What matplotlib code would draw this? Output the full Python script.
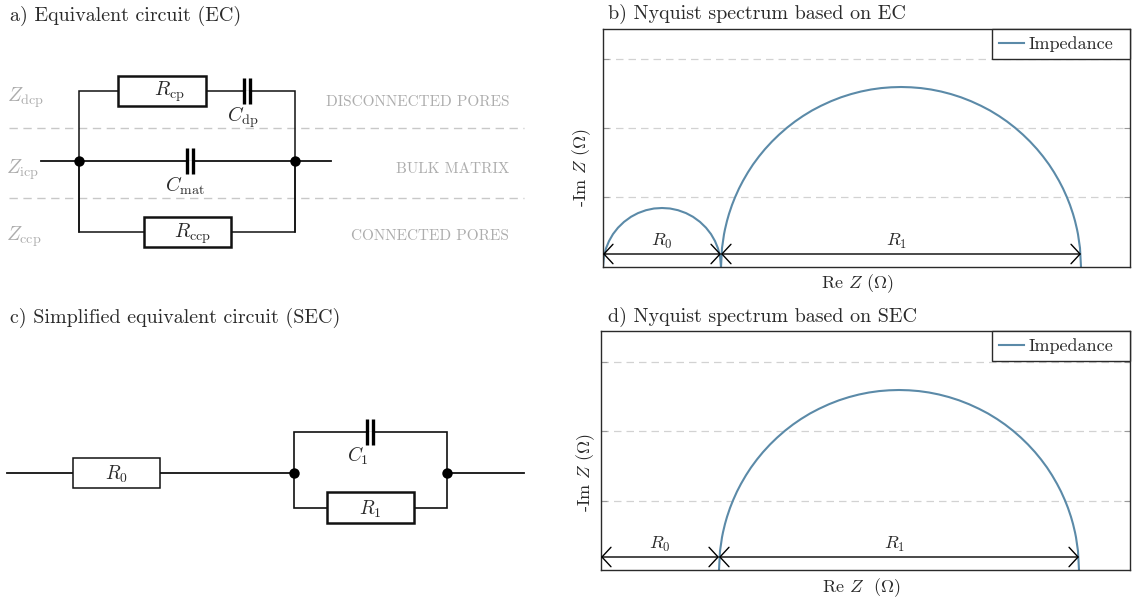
import matplotlib
matplotlib.use("Agg")
import matplotlib.pyplot as plt
from matplotlib.patches import Rectangle

plt.rcParams['font.family'] = ['cmr10', 'DejaVu Sans']
plt.rcParams['mathtext.fontset'] = 'cm'
plt.rcParams['axes.formatter.use_mathtext'] = True
plt.rcParams['axes.unicode_minus'] = False

# ---- data (arbitrary impedance units) ----
small_arc_re = [0, 1, 3, 6, 10, 15, 21, 28, 35, 43, 51, 59, 67, 75, 83, 90, 97, 103, 108, 112, 115, 117, 118]
small_arc_im = [0, 10.8, 18.6, 25.9, 32.9, 39.3, 45.1, 50.2, 53.9, 56.8, 58.5, 59, 58.5, 56.8, 53.9, 50.2, 45.1, 39.3, 32.9, 25.9, 18.6, 10.8, 0]
large_arc_re = [118, 119, 121, 122, 124, 126, 129, 132, 136, 140, 145, 150, 156, 162, 169, 176, 184, 192, 200, 209,
                218, 228, 238, 248, 258, 268, 278, 288, 298,
                308, 318, 328, 338, 348, 358, 368, 378, 387, 396, 404, 412, 420, 427, 434, 440, 446, 451, 456, 460,
                464, 467, 470, 472, 474, 475, 477, 478]
large_arc_im = [0, 18.9, 32.7, 37.7, 46.1, 53.1, 62.0, 69.6, 78.5, 86.2, 94.8, 102.5, 110.6, 117.9, 125.5, 132.3, 139.3,
                145.5, 151.0, 156.5, 161.2, 165.8, 169.7, 172.9, 175.5, 177.5, 178.9, 179.7, 180,
                179.7, 178.9, 177.5, 175.5, 172.9, 169.7, 165.8, 161.2, 156.5, 151.0, 145.5, 139.3, 132.3, 125.5,
                117.9, 110.6, 102.5, 94.8, 86.2, 78.5, 69.6, 62.0, 53.1, 46.1, 37.7, 32.7, 18.9, 0]
grid_levels = [69.5, 139, 208.5]
R0_value = 118
R1_value = 360
series_label = "Impedance"
panel_titles = ["a) Equivalent circuit (EC)", "b) Nyquist spectrum based on EC",
                "c) Simplified equivalent circuit (SEC)", "d) Nyquist spectrum based on SEC"]
zone_labels = ["DISCONNECTED PORES", "BULK MATRIX", "CONNECTED PORES"]

W, H = 1134, 606
fig = plt.figure(figsize=(W / 100, H / 100), dpi=100)
LINE = '#5b8aa8'
INK = '#2a2a2a'
GREY = '#adadad'
GRID = '#d2d2d2'


def px_axes(l, t, r, b):
    return fig.add_axes([l / W, 1 - b / H, (r - l) / W, (b - t) / H])


def nyquist(rect, arcs, xlabel, ylabel_pos, xlabel_pos):
    l, t, r, b = rect
    ax = px_axes(l, t, r, b)
    ax.set_xlim(0, r - l)
    ax.set_ylim(0, b - t)
    ax.set_xticks([])
    ax.set_yticks(grid_levels)
    ax.set_yticklabels([])
    ax.tick_params(axis='y', direction='in', length=4, width=0.8, color='#999999', left=True, right=True)
    ax.grid(axis='y', color=GRID, lw=0.9, dashes=(6, 4))
    ax.set_axisbelow(True)
    for s in ax.spines.values():
        s.set_linewidth(1.0)
        s.set_color(INK)
    first = True
    for re_vals, im_vals in arcs:
        ax.plot(re_vals, im_vals, color=LINE, lw=1.5, clip_on=True,
                label=series_label if first else None, solid_joinstyle='round')
        first = False
    leg = ax.legend(loc='upper left', bbox_to_anchor=((992 - l) / (r - l), 0, (r - 992) / (r - l), 1),
                    mode='expand', fontsize=13, frameon=True, fancybox=False, framealpha=1,
                    edgecolor=INK, borderaxespad=0, handlelength=1.38, handletextpad=0.22,
                    borderpad=0.4)
    leg.get_frame().set_linewidth(1.0)
    for tx in leg.get_texts():
        tx.set_color(INK)
    arrow = dict(arrowstyle='<->,head_length=0.65,head_width=0.7', lw=1.0, color='black',
                 shrinkA=0, shrinkB=0, mutation_scale=10)
    y0 = 13
    ax.annotate('', xy=(0, y0), xytext=(R0_value, y0), arrowprops=arrow)
    ax.annotate('', xy=(R0_value, y0), xytext=(R0_value + R1_value, y0), arrowprops=arrow)
    ax.text(R0_value / 2, y0 + 3, '$R_0$', ha='center', va='bottom', fontsize=13, color=INK)
    ax.text(R0_value + R1_value / 2 - 4, y0 + 3, '$R_1$', ha='center', va='bottom', fontsize=13, color=INK)
    fig.text(ylabel_pos[0] / W, 1 - ylabel_pos[1] / H, '-Im $Z$ ($\\Omega$)', rotation=90, ha='center',
             va='center', fontsize=13, color=INK)
    fig.text(xlabel_pos[0] / W, 1 - xlabel_pos[1] / H, xlabel, ha='center', va='center', fontsize=13, color=INK)
    return ax


nyquist((603, 29, 1130, 267), [(small_arc_re, small_arc_im), (large_arc_re, large_arc_im)],
        'Re $Z$ ($\\Omega$)', (582, 167), (857, 284))
nyquist((601, 331, 1130, 570), [(large_arc_re, large_arc_im)],
        'Re $Z$  ($\\Omega$)', (586, 472), (861, 588))

# ---- schematic overlay in pixel coordinates ----
ov = fig.add_axes([0, 0, 1, 1], zorder=5)
ov.set_xlim(0, W)
ov.set_ylim(H, 0)
ov.axis('off')
ov.patch.set_alpha(0)


def wire(xs, ys, lw=1.1, c='#111111'):
    ov.plot(xs, ys, color=c, lw=lw, solid_capstyle='projecting', solid_joinstyle='miter')


def box(x0, y0, x1, y1, lw=1.6):
    ov.add_patch(Rectangle((x0, y0), x1 - x0, y1 - y0, fc='white', ec='#111111', lw=lw, zorder=3))


def cap(x, y0, y1, y_wire, gap=2.8):
    ov.plot([x - gap, x + gap], [y_wire, y_wire], color='white', lw=2, zorder=3, solid_capstyle='butt')
    for dx in (-gap, gap):
        ov.plot([x + dx, x + dx], [y0, y1], color='black', lw=2.4, solid_capstyle='butt', zorder=4)


def dot(x, y):
    ov.plot([x], [y], 'o', color='black', ms=7.5, mew=0, zorder=5)


def label(x, y, s, fs=13, c=INK, ha='center'):
    ov.text(x, y, s, ha=ha, va='center', fontsize=fs, color=c, zorder=6)


# titles
ov.text(10, 16, panel_titles[0], fontsize=14.4, color=INK, va='center')
ov.text(608, 14, panel_titles[1], fontsize=14.4, color=INK, va='center')
ov.text(10, 318, panel_titles[2], fontsize=14.4, color=INK, va='center')
ov.text(608, 317, panel_titles[3], fontsize=14.4, color=INK, va='center')

# circuit a
for y in (128, 198):
    ov.plot([9, 524], [y, y], color='#c8c8c8', lw=1.0, dashes=(6, 4))
wire([79, 79, 295, 295], [232, 91, 91, 232])
wire([41, 331], [161, 161], lw=1.3)
wire([79, 79, 295, 295], [161, 232, 232, 161])
box(118, 76, 206, 106, lw=1.8)
box(144, 217, 231, 247, lw=1.8)
cap(247, 78, 104, 91)
cap(190, 148, 174, 161)
dot(79, 161)
dot(295, 161)
label(169, 92, '$R_{\\mathrm{cp}}$', fs=14.5)
label(243, 117, '$C_{\\mathrm{dp}}$', fs=14.5)
label(185, 186, '$C_{\\mathrm{mat}}$', fs=14.5)
label(193, 234, '$R_{\\mathrm{ccp}}$', fs=14.5)
label(26, 98, '$Z_{\\mathrm{dcp}}$', fs=14.5, c=GREY)
label(23, 170, '$Z_{\\mathrm{icp}}$', fs=14.5, c=GREY)
label(24, 237, '$Z_{\\mathrm{ccp}}$', fs=14.5, c=GREY)
ov.text(509, 102, zone_labels[0], ha='right', va='center', fontsize=11, color=GREY)
ov.text(509, 169, zone_labels[1], ha='right', va='center', fontsize=11, color=GREY)
ov.text(509, 236, zone_labels[2], ha='right', va='center', fontsize=11, color=GREY)

# circuit c
wire([7, 294], [473, 473], lw=1.3)
wire([447, 524], [473, 473], lw=1.3)
wire([294, 294, 447, 447], [473, 432, 432, 473], lw=1.2)
wire([294, 294, 447, 447], [473, 508, 508, 473], lw=1.2)
box(73, 458, 160, 488, lw=1.1)
box(327, 492, 414, 523, lw=1.8)
cap(370, 419, 445, 432)
dot(294, 473)
dot(447, 473)
label(117, 474, '$R_0$', fs=14)
label(358, 456, '$C_1$', fs=14)
label(370, 509, '$R_1$', fs=14)

fig.savefig('out.png', dpi=100)
